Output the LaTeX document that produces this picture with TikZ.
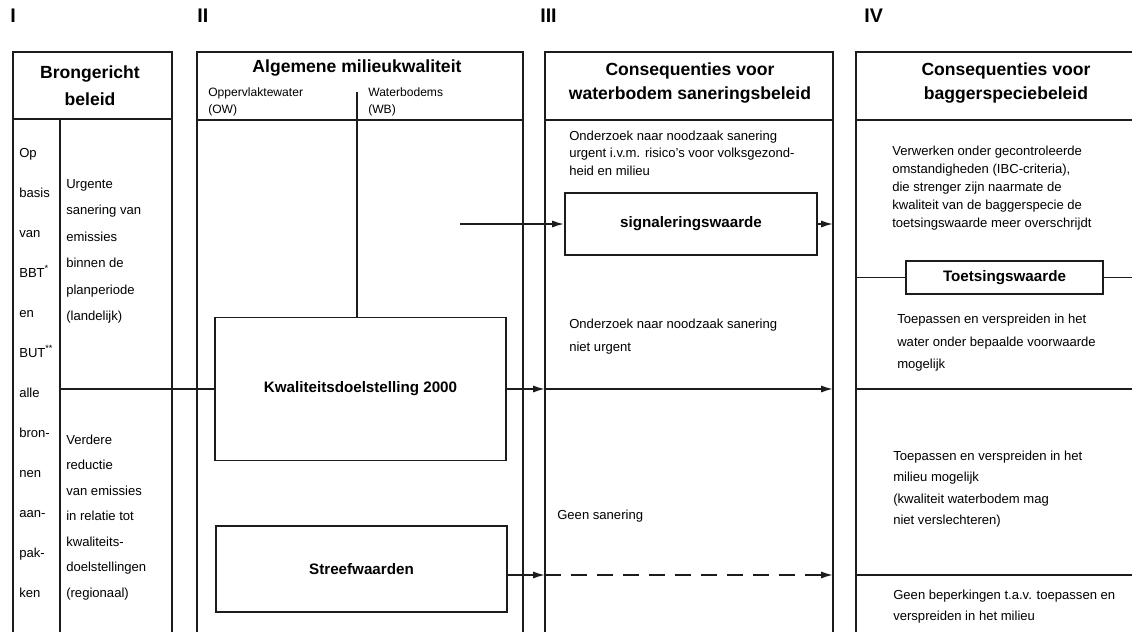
\documentclass[tikz,border=0pt]{standalone}
\usepackage{fontspec}
\setmainfont{Liberation Sans}
\usetikzlibrary{positioning,arrows.meta,calc}
\definecolor{ink}{HTML}{1C1C1C}
\tikzset{
  frame/.style={draw=ink,line width=1.5pt},
  rule/.style={draw=ink,line width=1.2pt},
  valbox/.style={draw=ink,line width=1.3pt,inner sep=0pt,font=\fontsize{10.8}{13}\selectfont\bfseries},
  head/.style={align=center,inner sep=0pt,font=\fontsize{12.5}{17.5}\selectfont\bfseries},
  colnum/.style={anchor=base west,inner sep=0pt,font=\fontsize{14}{14}\selectfont\bfseries},
  sub/.style={align=left,anchor=north west,inner sep=0pt,font=\fontsize{8.6}{12.7}\selectfont},
  txt/.style={align=left,anchor=north west,inner sep=0pt,font=\fontsize{9.3}{12.2}\selectfont},
  word/.style={anchor=base west,inner sep=0pt,font=\fontsize{9.3}{11}\selectfont},
  flow/.style={-{Latex[length=3mm,width=1.8mm]},draw=ink,line width=1.2pt},
  link/.style={draw=ink,line width=1.2pt}}

\begin{document}
\begin{tikzpicture}[x=0.025cm,y=-0.025cm]
  \useasboundingbox (0,0) rectangle (1132,632);
  % column borders
  \coordinate (c1i) at (60,0);
  \coordinate (c3w) at (545,0);
  \coordinate (c3e) at (833,0);
  \coordinate (c4w) at (856,0);
  \coordinate (edge) at (1132,0);
  \draw[frame] (13,632) -- (13,52) -- (172,52) -- (172,632);
  \draw[frame] (197,632) -- (197,52) -- (523,52) -- (523,632);
  \draw[frame] (545,632) -- (545,52) -- (833,52) -- (833,632);
  \draw[frame] (856,632) -- (856,52) -- (1132,52);
  \draw[rule] (13,119) -- (172,119);
  \draw[rule] (197,120) -- (523,120);
  \draw[rule] (545,120) -- (833,120);
  \draw[rule] (856,120) -- (1132,120);
  \draw[rule] (60,119) -- (60,632);

  \node[colnum] (nI) at (10,22) {I};
  \node[colnum] (nII) at (197,22) {II};
  \node[colnum] (nIII) at (540,22) {III};
  \node[colnum] (nIV) at (864,22) {IV};

  \node[head,font=\fontsize{12.5}{19}\selectfont\bfseries] (hI) at (90,86) {Brongericht\\beleid};
  \node[head] (hII) at (357,68) {Algemene milieukwaliteit};
  \node[head] (hIII) at (690,83) {Consequenties voor\\waterbodem saneringsbeleid};
  \node[head] (hIV) at (1006,83) {Consequenties voor\\baggerspeciebeleid};
  \node[sub] (ow) at (208,87) {Oppervlaktewater\\(OW)};
  \node[sub] (wb) at (368,87) {Waterbodems\\(WB)};

  % column I
  \foreach \w [count=\i from 0] in {Op,basis,van,{BBT\textsuperscript{*}},en,{BUT\textsuperscript{**}},alle,bron-,nen,aan-,pak-,ken}
    \node[word] (l\i) at (19,157+40*\i) {\w};
  \foreach \w [count=\i from 0] in {Urgente,sanering van,emissies,binnen de,planperiode,(landelijk)}
    \node[word] (u\i) at (66,188+26.5*\i) {\w};
  \foreach \w [count=\i from 0] in {Verdere,reductie,van emissies,in relatie tot,kwaliteits-,doelstellingen,(regionaal)}
    \node[word] (r\i) at (66,444+25.5*\i) {\w};

  % column II
  \node[valbox,minimum width=7.275cm,minimum height=3.575cm] (kwal) at (360.5,389) {Kwaliteitsdoelstelling 2000};
  \node[valbox,minimum width=7.275cm,minimum height=2.15cm] (streef) at (361.5,569) {Streefwaarden};
  \draw[link] (357,92) -- (kwal.north -| 357,0);
  \coordinate (wbsrc) at (460,224);

  % column III
  \node[txt] (t3a) at (569,131) {Onderzoek naar noodzaak sanering\\urgent i.v.m. risico's voor volksgezond-\\heid en milieu};
  \node[valbox,minimum width=6.3cm,minimum height=1.55cm] (signal) at (691,224) {signaleringswaarde};
  \node[txt,font=\fontsize{9.3}{16.3}\selectfont] (t3b) at (569,319) {Onderzoek naar noodzaak sanering\\niet urgent};
  \node[txt] (t3c) at (557,510) {Geen sanering};

  % column IV
  \node[txt,font=\fontsize{9.3}{12.75}\selectfont] (t4a) at (892,146) {Verwerken onder gecontroleerde\\omstandigheden (IBC-criteria),\\die strenger zijn naarmate de\\kwaliteit van de baggerspecie de\\toetsingswaarde meer overschrijdt};
  \node[valbox,minimum width=4.925cm,minimum height=0.825cm] (toets) at (1004.5,277.5) {Toetsingswaarde};
  \node[txt,font=\fontsize{9.3}{16}\selectfont] (t4b) at (897,314) {Toepassen en verspreiden in het\\water onder bepaalde voorwaarde\\mogelijk};
  \node[txt,font=\fontsize{9.3}{15.1}\selectfont] (t4c) at (893,451) {Toepassen en verspreiden in het\\milieu mogelijk\\(kwaliteit waterbodem mag\\niet verslechteren)};
  \node[txt,font=\fontsize{9.3}{14.9}\selectfont] (t4d) at (893,590) {Geen beperkingen t.a.v. toepassen en\\verspreiden in het milieu};

  % connectors
  \draw[flow] (wbsrc) -- (signal.west);
  \draw[flow] (signal.east) -- (signal.east -| c3e);
  \draw[link] (kwal.west -| c1i) -- (kwal.west);
  \draw[flow] (kwal.east) -- (kwal.east -| c3w);
  \draw[flow] (kwal.east -| c3w) -- (kwal.east -| c3e);
  \draw[link] (kwal.east -| c4w) -- (kwal.east -| edge);
  \draw[link] (toets.west -| c4w) -- (toets.west);
  \draw[link] (toets.east) -- (toets.east -| edge);
  \coordinate (sout) at ([yshift=-0.15cm]streef.east);
  \draw[flow] (sout) -- (sout -| c3w);
  \draw[flow,dash pattern=on 4mm off 2.5mm] (sout -| c3w) -- (sout -| c3e);
  \draw[link] (sout -| c4w) -- (sout -| edge);
\end{tikzpicture}
\end{document}
